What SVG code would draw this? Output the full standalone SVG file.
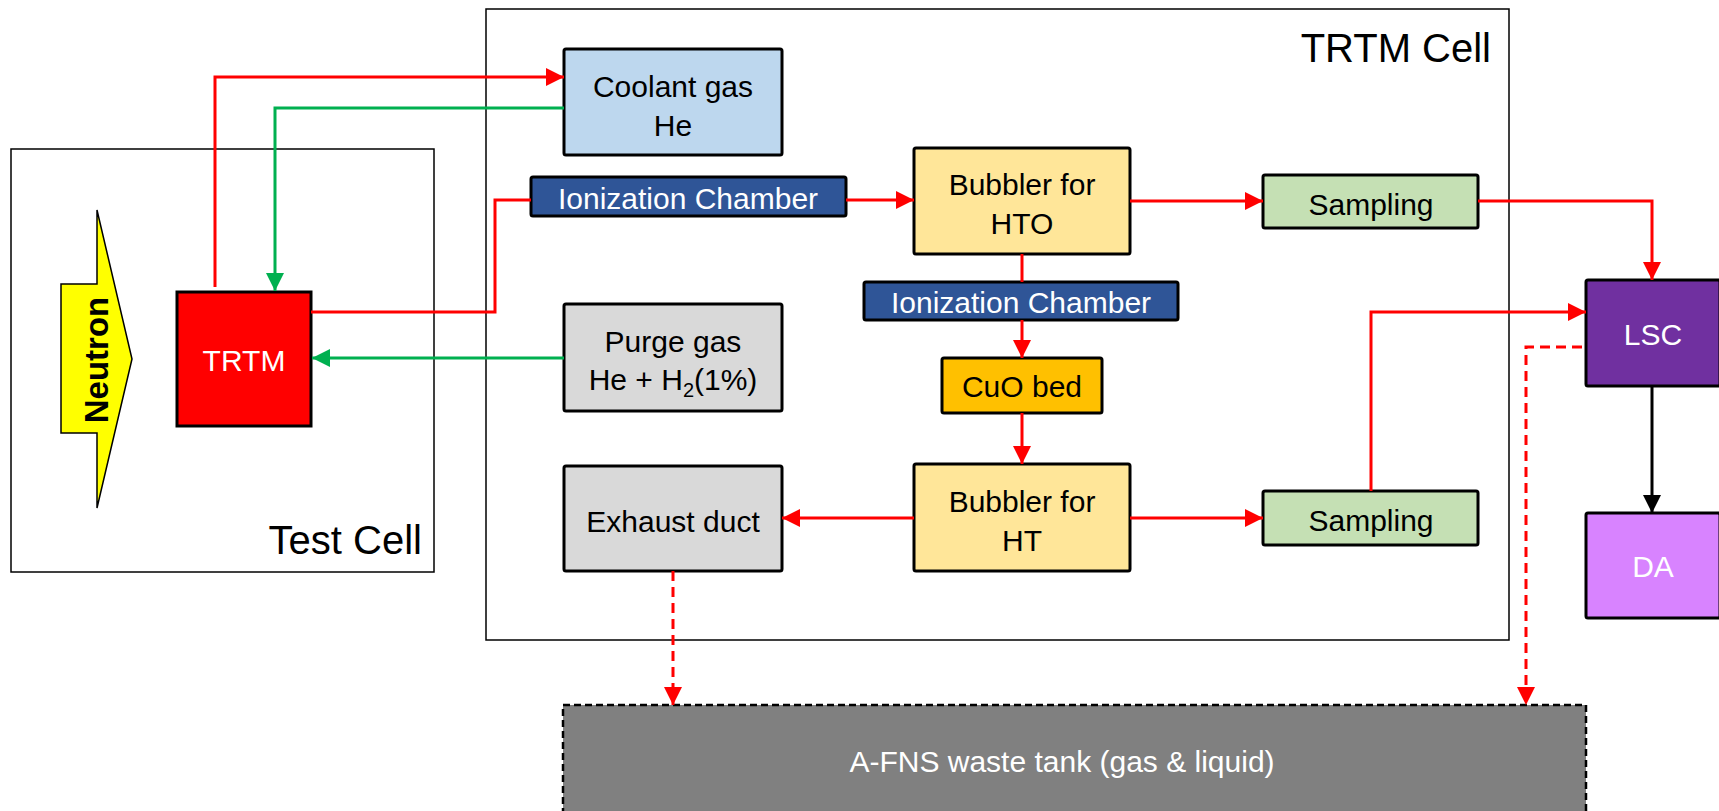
<svg xmlns="http://www.w3.org/2000/svg" width="1719" height="811" viewBox="0 0 1719 811">
<defs>
<style>
.cell{fill:none;stroke:#000;stroke-width:1.5}
.box{stroke:#000;stroke-width:3}
.t{font-family:"Liberation Sans",Arial,sans-serif;font-size:30px;fill:#000;text-anchor:middle}
.w{fill:#fff}
.red{fill:none;stroke:#FF0000;stroke-width:3}
.green{fill:none;stroke:#00B050;stroke-width:3}
.blk{fill:none;stroke:#000;stroke-width:3}
.dash{fill:none;stroke:#FF0000;stroke-width:3;stroke-dasharray:10,6}
.lbl{font-family:"Liberation Sans",Arial,sans-serif;font-size:40px;fill:#000;text-anchor:end}
</style>
<marker id="ar" markerUnits="userSpaceOnUse" markerWidth="18" markerHeight="18" refX="18" refY="9" orient="auto"><path d="M0,0 L18,9 L0,18 z" fill="#FF0000"/></marker>
<marker id="ag" markerUnits="userSpaceOnUse" markerWidth="18" markerHeight="18" refX="18" refY="9" orient="auto"><path d="M0,0 L18,9 L0,18 z" fill="#00B050"/></marker>
<marker id="ak" markerUnits="userSpaceOnUse" markerWidth="18" markerHeight="18" refX="18" refY="9" orient="auto"><path d="M0,0 L18,9 L0,18 z" fill="#000"/></marker>
</defs>
<rect width="1719" height="811" fill="#fff"/>

<g id="test-cell">
<rect class="cell" x="11" y="149" width="423" height="423"/>
<text class="lbl" x="422" y="554">Test Cell</text>
</g>
<g id="trtm-cell">
<rect class="cell" x="486" y="9" width="1023" height="631"/>
<text class="lbl" x="1491" y="62">TRTM Cell</text>
</g>

<g id="neutron">
<polygon points="97,210 132,359 97,508 97,433 61,433 61,284 97,284" fill="#FFFF00" stroke="#000" stroke-width="1.5"/>
<text x="108" y="360" transform="rotate(-90 108 360)" font-family="Liberation Sans,Arial,sans-serif" font-size="33" font-weight="bold" text-anchor="middle">Neutron</text>
</g>

<g id="trtm">
<rect class="box" x="177" y="292" width="134" height="134" fill="#FF0000" stroke-width="2.5"/>
<text class="t w" x="244" y="371">TRTM</text>
</g>

<g id="coolant">
<rect class="box" x="564" y="49" width="218" height="106" rx="2" fill="#BDD7EE"/>
<text class="t" x="673" y="97">Coolant gas</text>
<text class="t" x="673" y="136">He</text>
</g>

<g id="ic1">
<rect class="box" x="531" y="177" width="315" height="39" rx="2" fill="#2F5597"/>
<text class="t w" x="688" y="209">Ionization Chamber</text>
</g>

<g id="purge">
<rect class="box" x="564" y="304" width="218" height="107" rx="2" fill="#D9D9D9"/>
<text class="t" x="673" y="352">Purge gas</text>
<text class="t" x="673" y="390">He + H<tspan font-size="20" dy="7">2</tspan><tspan dy="-7">(1%)</tspan></text>
</g>

<g id="exhaust">
<rect class="box" x="564" y="466" width="218" height="105" rx="2" fill="#D9D9D9"/>
<text class="t" x="673" y="532">Exhaust duct</text>
</g>

<g id="bubbler-hto">
<rect class="box" x="914" y="148" width="216" height="106" rx="2" fill="#FFE699"/>
<text class="t" x="1022" y="195">Bubbler for</text>
<text class="t" x="1022" y="234">HTO</text>
</g>

<g id="ic2">
<rect class="box" x="864" y="282" width="314" height="38" rx="2" fill="#2F5597"/>
<text class="t w" x="1021" y="313">Ionization Chamber</text>
</g>

<g id="cuo">
<rect class="box" x="942" y="358" width="160" height="55" rx="2" fill="#FFC000"/>
<text class="t" x="1022" y="397">CuO bed</text>
</g>

<g id="bubbler-ht">
<rect class="box" x="914" y="464" width="216" height="107" rx="2" fill="#FFE699"/>
<text class="t" x="1022" y="512">Bubbler for</text>
<text class="t" x="1022" y="551">HT</text>
</g>

<g id="sampling1">
<rect class="box" x="1263" y="175" width="215" height="53" rx="2" fill="#C5E0B4"/>
<text class="t" x="1371" y="215">Sampling</text>
</g>

<g id="sampling2">
<rect class="box" x="1263" y="491" width="215" height="54" rx="2" fill="#C5E0B4"/>
<text class="t" x="1371" y="531">Sampling</text>
</g>

<g id="lsc">
<rect class="box" x="1586" y="280" width="134" height="106" rx="2" fill="#7030A0"/>
<text class="t w" x="1653" y="345">LSC</text>
</g>

<g id="da">
<rect class="box" x="1586" y="513" width="134" height="105" rx="2" fill="#D883FF"/>
<text class="t w" x="1653" y="577">DA</text>
</g>

<g id="waste">
<rect x="563" y="705" width="1023" height="110" fill="#808080" stroke="#000" stroke-width="2.5" stroke-dasharray="7,4"/>
<text class="t w" x="1062" y="772" font-size="31">A-FNS waste tank (gas &amp; liquid)</text>
</g>

<g id="connectors">
<path class="red" d="M215,287 V77 H564" marker-end="url(#ar)"/>
<path class="green" d="M564,108 H275 V291" marker-end="url(#ag)"/>
<path class="red" d="M311,312 H495 V200 H531"/>
<path class="green" d="M564,358 H312" marker-end="url(#ag)"/>
<path class="red" d="M846,200 H914" marker-end="url(#ar)"/>
<path class="red" d="M1022,254 V282"/>
<path class="red" d="M1022,320 V358" marker-end="url(#ar)"/>
<path class="red" d="M1022,413 V464" marker-end="url(#ar)"/>
<path class="red" d="M914,518 H782" marker-end="url(#ar)"/>
<path class="red" d="M1130,518 H1263" marker-end="url(#ar)"/>
<path class="red" d="M1130,201 H1263" marker-end="url(#ar)"/>
<path class="red" d="M1478,201 H1652 V280" marker-end="url(#ar)"/>
<path class="red" d="M1371,491 V312 H1586" marker-end="url(#ar)"/>
<path class="dash" d="M1582,347 H1526 V705" marker-end="url(#ar)"/>
<path class="dash" d="M673,571 V705" marker-end="url(#ar)"/>
<path class="blk" d="M1652,386 V513" marker-end="url(#ak)"/>
</g>
</svg>
